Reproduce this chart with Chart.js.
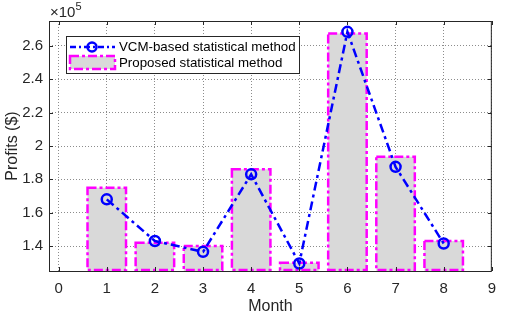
<!DOCTYPE html>
<html>
<head>
<meta charset="utf-8">
<script src="https://cdn.jsdelivr.net/npm/chart.js@4/dist/chart.umd.min.js"></script>
<style>
  html, body { margin: 0; padding: 0; background: #fff; }
  #wrap { width: 505px; height: 316px; }
</style>
</head>
<body>
<div id="wrap"><canvas id="profitChart" width="505" height="316"></canvas></div>
<script>
// data (profits in $)
const months = [1, 2, 3, 4, 5, 6, 7, 8];
const proposedProfits = [175000, 142000, 140000, 186000, 130000, 267500, 193500, 143000];
const vcmProfits = [168000, 143000, 136500, 183000, 129500, 268500, 187500, 141500];
const xTicks = [0, 1, 2, 3, 4, 5, 6, 7, 8, 9];
const yTicks = [140000, 160000, 180000, 200000, 220000, 240000, 260000];

const FONT = "'Liberation Sans', Arial, sans-serif";
const AXIS_COLOR = "#262626";
const MAGENTA = "#ff00ff";
const BLUE = "#0000ff";
const BAR_FILL = "#d9d9d9";
const BAR_DASH = [9, 3, 3, 3];

// bars can't do dashed borders, so stroke them here
const dashedBars = {
  id: "dashedBars",
  afterDatasetDraw(chart, args) {
    if (args.index !== 1) return;
    const ctx = chart.ctx;
    const area = chart.chartArea;
    ctx.save();
    ctx.beginPath();
    ctx.rect(area.left, area.top - 2, area.right - area.left, area.bottom - area.top + 3);
    ctx.clip();
    ctx.strokeStyle = MAGENTA;
    ctx.lineWidth = 2.5;
    ctx.setLineDash(BAR_DASH);
    args.meta.data.forEach((bar) => {
      const p = bar.getProps(["x", "y", "base", "width"], true);
      ctx.strokeRect(p.x - p.width / 2, p.y, p.width, p.base - p.y - 1);
    });
    ctx.restore();
  },
};

const boxAndLegend = {
  id: "boxAndLegend",
  afterDraw(chart) {
    const ctx = chart.ctx;
    const a = chart.chartArea;
    ctx.save();
    // axes box
    ctx.strokeStyle = AXIS_COLOR;
    ctx.lineWidth = 1;
    ctx.setLineDash([]);
    ctx.strokeRect(a.left + 0.5, a.top + 0.5, a.right - a.left - 1, a.bottom - a.top);

    // small inward ticks
    const xs = chart.scales.x, ys = chart.scales.y;
    ctx.beginPath();
    xTicks.forEach((t) => {
      const px = Math.round(xs.getPixelForValue(t)) + 0.5;
      ctx.moveTo(px, a.bottom); ctx.lineTo(px, a.bottom - 4);
      ctx.moveTo(px, a.top); ctx.lineTo(px, a.top + 4);
    });
    yTicks.forEach((t) => {
      const py = Math.round(ys.getPixelForValue(t)) + 0.5;
      ctx.moveTo(a.left, py); ctx.lineTo(a.left + 4, py);
      ctx.moveTo(a.right, py); ctx.lineTo(a.right - 4, py);
    });
    ctx.stroke();

    // exponent label
    ctx.fillStyle = AXIS_COLOR;
    ctx.textBaseline = "alphabetic";
    ctx.font = "15px " + FONT;
    ctx.fillText("\u00d710", a.left + 1, a.top - 4);
    const w = ctx.measureText("\u00d710").width;
    ctx.font = "11px " + FONT;
    ctx.fillText("5", a.left + 1 + w, a.top - 11);

    // legend
    const lx = 66, ly = 36, lw = 233, lh = 37;
    ctx.fillStyle = "#fff";
    ctx.fillRect(lx, ly, lw, lh);
    ctx.strokeStyle = AXIS_COLOR;
    ctx.lineWidth = 1;
    ctx.strokeRect(lx + 0.5, ly + 0.5, lw, lh);

    ctx.strokeStyle = BLUE;
    ctx.lineWidth = 2.5;
    ctx.setLineDash([6, 3, 2, 3]);
    ctx.beginPath();
    ctx.moveTo(70, 47); ctx.lineTo(115, 47);
    ctx.stroke();
    ctx.setLineDash([]);
    ctx.beginPath();
    ctx.arc(92, 47, 4.5, 0, Math.PI * 2);
    ctx.stroke();

    ctx.fillStyle = BAR_FILL;
    ctx.fillRect(70, 56, 45, 13);
    ctx.strokeStyle = MAGENTA;
    ctx.setLineDash(BAR_DASH);
    ctx.strokeRect(70, 56, 45, 13);
    ctx.setLineDash([]);

    ctx.fillStyle = "#000";
    ctx.font = "13.3px " + FONT;
    ctx.textBaseline = "middle";
    ctx.fillText("VCM-based statistical method", 119, 47);
    ctx.fillText("Proposed statistical method", 119, 63);
    ctx.restore();
  },
};

const grid = {
  color: "rgba(0,0,0,0.45)",
  lineWidth: 1,
  drawTicks: false,
};

new Chart(document.getElementById("profitChart"), {
  type: "bar",
  data: {
    datasets: [
      {
        type: "line",
        label: "VCM-based statistical method",
        data: months.map((m, i) => ({ x: m, y: vcmProfits[i] })),
        borderColor: BLUE,
        borderWidth: 2.5,
        borderDash: [9, 4, 3, 4],
        pointRadius: 5,
        pointBorderWidth: 2.5,
        pointBorderColor: BLUE,
        pointBackgroundColor: "rgba(0,0,0,0)",
        fill: false,
        tension: 0,
        order: 0,
      },
      {
        type: "bar",
        label: "Proposed statistical method",
        data: months.map((m, i) => ({ x: m, y: proposedProfits[i] })),
        backgroundColor: BAR_FILL,
        borderWidth: 0,
        base: 125000,
        barPercentage: 0.8,
        categoryPercentage: 1,
        order: 1,
      },
    ],
  },
  options: {
    responsive: false,
    animation: false,
    events: [],
    layout: { padding: { left: 0, right: 12, top: 21, bottom: 0 } },
    plugins: { legend: { display: false }, tooltip: { enabled: false } },
    scales: {
      x: {
        type: "linear",
        min: -0.2,
        max: 9,
        offset: false,
        afterBuildTicks: (s) => { s.ticks = xTicks.map((v) => ({ value: v })); },
        afterFit: (s) => { s.height = 45; },
        grid: { ...grid, offset: false },
        border: { display: false, dash: [1, 2] },
        ticks: { color: AXIS_COLOR, font: { family: FONT, size: 15 }, padding: 9, maxRotation: 0 },
        title: { display: true, text: "Month", color: AXIS_COLOR, font: { family: FONT, size: 16 }, padding: { top: 5, bottom: 0 } },
      },
      y: {
        min: 125000,
        max: 275000,
        afterBuildTicks: (s) => { s.ticks = yTicks.map((v) => ({ value: v })); },
        afterFit: (s) => { s.width = 49; },
        grid: { ...grid },
        border: { display: false, dash: [1, 2] },
        ticks: {
          color: AXIS_COLOR,
          font: { family: FONT, size: 15 },
          padding: 6,
          callback: (v) => String(+(v / 1e5).toFixed(1)),
        },
        title: { display: true, text: "Profits ($)", color: AXIS_COLOR, font: { family: FONT, size: 16 }, padding: { top: 3, bottom: 0 } },
      },
    },
  },
  plugins: [dashedBars, boxAndLegend],
});
</script>
</body>
</html>
